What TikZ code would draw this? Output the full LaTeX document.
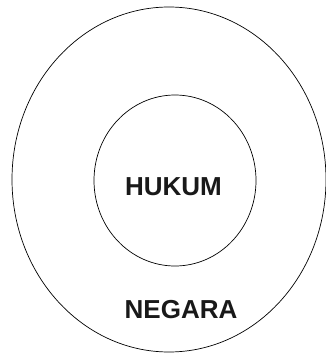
\documentclass[tikz,border=0pt]{standalone}
\usepackage{fontspec}
\setmainfont{Liberation Sans}
\usepackage{tikz}
\usetikzlibrary{shapes.geometric}
\tikzset{
  hk diagram/.style={x=1pt, y=-1pt, line cap=round, line join=round},
  hk ring/.style={draw=black, line width=0.7pt, ellipse, inner sep=0pt},
  hk label/.style={font=\fontsize{26}{30}\selectfont\bfseries, text=black!90, inner sep=0pt}
}
\begin{document}
\begin{tikzpicture}[hk diagram]
\useasboundingbox (0,0) rectangle (326,353);
\node[hk ring, minimum width=314pt, minimum height=345pt] (negara) at (169,179.5) {};
\node[hk ring, minimum width=162pt, minimum height=171pt] (hukum) at (175,180.5) {};
\node[hk label] (hukumText) at (173.5,187) {HUKUM};
\node[hk label] (negaraText) at (181,310) {NEGARA};
\end{tikzpicture}
\end{document}
